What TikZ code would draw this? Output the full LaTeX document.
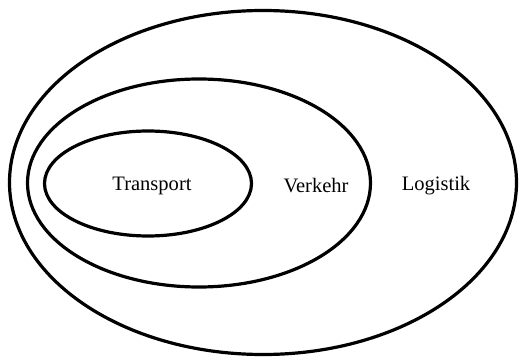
\documentclass[tikz,border=0pt]{standalone}
\usepackage{fontspec}
\setmainfont{Liberation Serif}
\begin{document}
\begin{tikzpicture}[x=0.75pt,y=0.75pt,yscale=-1,xscale=1]
\useasboundingbox (0,0) rectangle (519,357);
\tikzset{ring/.style={color={rgb, 255:red, 0; green, 0; blue, 0 }, line width=2.4}}
\tikzset{lbl/.style={font=\fontsize{15.4}{18}\selectfont}}

%Shape: Ellipse Logistik
\draw [ring] (263,182.5) ellipse (253.5 and 172) ;
%Shape: Ellipse Verkehr
\draw [ring] (199,183) ellipse (171.5 and 104) ;
%Shape: Ellipse Transport
\draw [ring] (148,183.5) ellipse (103.5 and 52.5) ;

% Text Node
\draw (152,186) node [lbl] (transport) {Transport};
% Text Node
\draw (316,186) node [lbl] (verkehr) {Verkehr};
% Text Node
\draw (436,186) node [lbl] (logistik) {Logistik};

\end{tikzpicture}
\end{document}
